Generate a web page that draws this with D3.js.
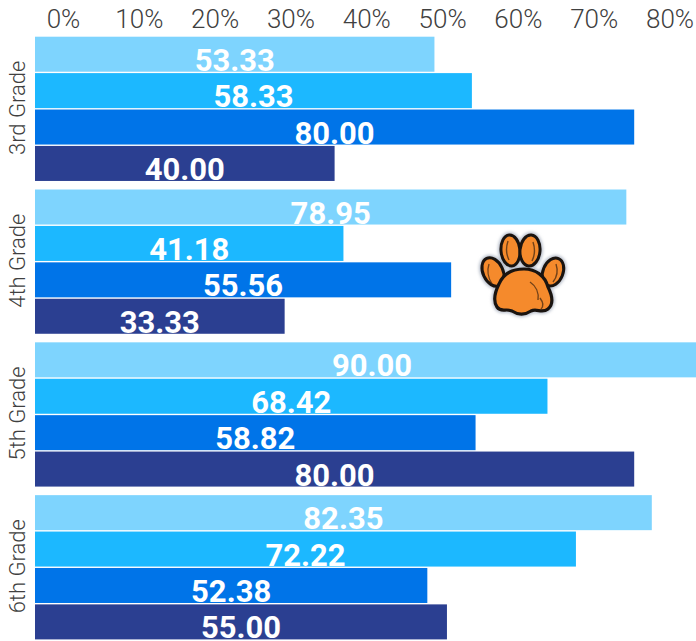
<!DOCTYPE html>
<html>
<head>
<meta charset="utf-8">
<script src="https://cdn.jsdelivr.net/npm/d3@7"></script>
<style>
  html, body { margin: 0; padding: 0; background: #fff; }
  svg { display: block; font-family: Roboto, "Noto Sans", sans-serif; }
</style>
</head>
<body>
<svg id="chart" width="696" height="641"></svg>
<script>
// Grade groups, series order within each group, and the scores per series
const grades = ["3rd Grade", "4th Grade", "5th Grade", "6th Grade"];
const seriesNames = ["s1", "s2", "s3", "s4"];
const series1 = [53.33, 78.95, 90.00, 82.35];
const series2 = [58.33, 41.18, 68.42, 72.22];
const series3 = [80.00, 55.56, 58.82, 52.38];
const series4 = [40.00, 33.33, 80.00, 55.00];
const tickValues = [0, 10, 20, 30, 40, 50, 60, 70, 80];
const colors = ["#7ed4fe", "#1cb8ff", "#0074e8", "#2b3f91"];

const allSeries = [series1, series2, series3, series4];
const rows = [];
grades.forEach((g, gi) => {
  seriesNames.forEach((s, si) => {
    rows.push({ grade: g, series: s, value: allSeries[si][gi], idx: si });
  });
});

const W = 696, H = 641;
const svg = d3.select("#chart");

// Bar length scale
const x = d3.scaleLinear().domain([0, 100]).range([35, 35 + 749]);
// Axis label scale
const xAxisScale = d3.scaleLinear().domain([0, 80]).range([63, 669.5]);

const y0 = d3.scaleBand().domain(grades).range([36.7, 639.4]).paddingInner(0.056).paddingOuter(0);
const y1 = d3.scaleBand().domain(seriesNames).range([0, y0.bandwidth()]).paddingInner(0.038).paddingOuter(0);

// Clip so the longest bar is cut at the right edge
svg.append("defs").append("clipPath").attr("id", "plotClip")
  .append("rect").attr("x", 0).attr("y", 0).attr("width", W).attr("height", H);

// Top axis (labels only)
const axis = d3.axisTop(xAxisScale)
  .tickValues(tickValues)
  .tickSize(0)
  .tickPadding(0)
  .tickFormat(d => d + "%");
const axisG = svg.append("g").attr("transform", "translate(0,28)").call(axis);
axisG.select(".domain").remove();
axisG.selectAll("text")
  .attr("dy", 0)
  .attr("y", 0)
  .style("font-family", "Roboto, sans-serif")
  .style("font-weight", 300)
  .style("font-size", "26px")
  .style("fill", "#404040")
  .attr("text-anchor", "middle");

// Bars
const groups = svg.append("g").attr("clip-path", "url(#plotClip)")
  .selectAll("g.grade")
  .data(grades)
  .join("g")
  .attr("class", "grade")
  .attr("transform", d => `translate(0,${y0(d)})`);

groups.selectAll("rect")
  .data(g => rows.filter(r => r.grade === g))
  .join("rect")
  .attr("x", x(0))
  .attr("y", d => y1(d.series))
  .attr("width", d => x(d.value) - x(0))
  .attr("height", y1.bandwidth())
  .attr("fill", d => colors[d.idx]);

groups.selectAll("text.val")
  .data(g => rows.filter(r => r.grade === g))
  .join("text")
  .attr("class", "val")
  .attr("x", d => (x(0) + x(d.value)) / 2)
  .attr("y", d => y1(d.series) + y1.bandwidth() - 1)
  .attr("text-anchor", "middle")
  .style("font-family", "Roboto, sans-serif")
  .style("font-weight", 700)
  .style("font-size", "31px")
  .style("fill", "#ffffff")
  .text(d => d.value.toFixed(2));

// Grade labels (rotated)
svg.append("g").selectAll("text")
  .data(grades)
  .join("text")
  .attr("transform", d => `translate(25,${y0(d) + y0.bandwidth() / 2 - 1}) rotate(-90)`)
  .attr("text-anchor", "middle")
  .style("font-family", "Roboto, sans-serif")
  .style("font-weight", 300)
  .style("font-size", "22px")
  .style("fill", "#404040")
  .text(d => d);

// Paw print emblem
const paw = svg.append("g").attr("class", "paw");
const defs = svg.select("defs");
defs.append("filter").attr("id", "soft").append("feGaussianBlur").attr("stdDeviation", 1.6);

const toes = [
  { cx: 493, cy: 272, rx: 10, ry: 15, rot: -25 },
  { cx: 510.5, cy: 250.5, rx: 9.5, ry: 15.5, rot: -5 },
  { cx: 530, cy: 250.5, rx: 10, ry: 15.5, rot: 5 },
  { cx: 553, cy: 272, rx: 10, ry: 14.5, rot: 22 }
];
const padPath = "M499,284 C504,272 514,269 524,269 C536,269 545,276 548,287 C552,295 554,304 548,309 C542,314 537,308 531,311 C525,315 518,315 512,311 C506,308 501,313 497,307 C493,301 495,292 499,284 Z";

// soft grey halo
const halo = paw.append("g").attr("filter", "url(#soft)");
toes.forEach(t => {
  halo.append("ellipse").attr("cx", t.cx).attr("cy", t.cy).attr("rx", t.rx + 3).attr("ry", t.ry + 3)
    .attr("transform", `rotate(${t.rot},${t.cx},${t.cy})`).attr("fill", "#b9c0cc");
});
halo.append("path").attr("d", padPath).attr("fill", "#b9c0cc").attr("stroke", "#b9c0cc").attr("stroke-width", 6);

toes.forEach(t => {
  paw.append("ellipse").attr("cx", t.cx).attr("cy", t.cy).attr("rx", t.rx).attr("ry", t.ry)
    .attr("transform", `rotate(${t.rot},${t.cx},${t.cy})`)
    .attr("fill", "#f58a2c").attr("stroke", "#1a1410").attr("stroke-width", 3);
});
paw.append("path").attr("d", padPath)
  .attr("fill", "#f58a2c").attr("stroke", "#1a1410").attr("stroke-width", 3.2).attr("stroke-linejoin", "round");

// dark streak details
const streaks = [
  "M489,264 C487,270 488,278 492,284",
  "M508,241 C506,247 506,254 509,260",
  "M533,242 C535,248 535,255 532,261",
  "M556,264 C558,270 557,277 553,282",
  "M530,282 C536,286 539,293 538,300",
  "M540,298 C543,302 544,306 541,309"
];
paw.selectAll("path.streak").data(streaks).join("path")
  .attr("class", "streak").attr("d", d => d)
  .attr("fill", "none").attr("stroke", "#3a2210").attr("stroke-width", 1.4).attr("opacity", 0.7);
</script>
</body>
</html>
